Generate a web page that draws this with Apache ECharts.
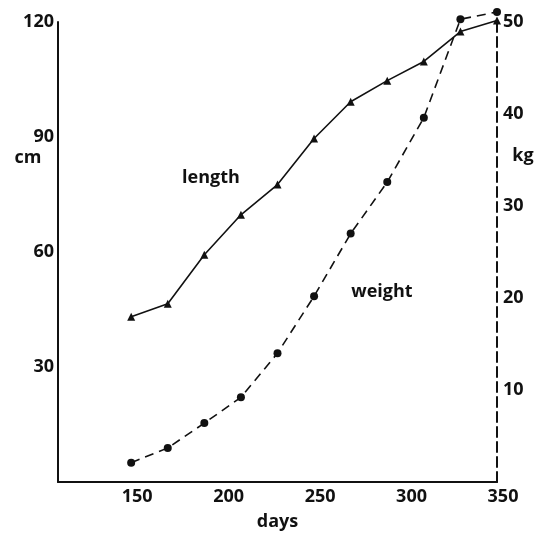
<!DOCTYPE html>
<html>
<head>
<meta charset="utf-8">
<script src="https://cdn.jsdelivr.net/npm/echarts@6/dist/echarts.min.js"></script>
<style>
html,body{margin:0;padding:0;background:#fff;}
#chart{width:539px;height:537px;}
</style>
</head>
<body>
<div id="chart"></div>
<script>
const days = [150, 170, 190, 210, 230, 250, 270, 290, 310, 330, 350];
const lengthCm = [43.1, 46.5, 59.3, 69.7, 77.6, 89.6, 99.2, 104.7, 109.7, 117.5, 120.4];
const weightKg = [2.1, 3.7, 6.4, 9.2, 14.0, 20.2, 27.0, 32.6, 39.6, 50.3, 51.1];
const xTicks = [150, 200, 250, 300, 350];
const cmTicks = [30, 60, 90, 120];
const kgTicks = [10, 20, 30, 40, 50];

const FONT = 'Open Sans';
const INK = '#111';
const chart = echarts.init(document.getElementById('chart'));
const txt = (text, x, y) => ({
  type: 'text', x: x, y: y,
  style: {text: text, font: 'bold 18px "' + FONT + '"', fill: INK, textAlign: 'center', textVerticalAlign: 'middle'}
});
chart.setOption({
  animation: false,
  backgroundColor: '#fff',
  grid: {left: 58, right: 42, top: 22, bottom: 55},
  xAxis: {
    type: 'value', min: 110, max: 350,
    name: 'days', nameLocation: 'middle', nameGap: 31,
    nameTextStyle: {fontFamily: FONT, fontWeight: 'bold', fontSize: 18, color: INK},
    axisLine: {lineStyle: {color: INK, width: 2}},
    axisTick: {show: false},
    splitLine: {show: false},
    axisLabel: {customValues: xTicks, fontFamily: FONT, fontWeight: 'bold', fontSize: 18, color: INK, margin: 6, padding: [0, 0, 0, 12]}
  },
  yAxis: [{
    type: 'value', min: 0, max: 120,
    axisLine: {show: true, lineStyle: {color: INK, width: 2}},
    axisTick: {show: false},
    splitLine: {show: false},
    axisLabel: {customValues: cmTicks, fontFamily: FONT, fontWeight: 'bold', fontSize: 18, color: INK, margin: 4}
  }, {
    type: 'value', min: 0, max: 50, position: 'right',
    axisLine: {show: true, lineStyle: {color: INK, width: 2, type: [10, 5]}},
    axisTick: {show: false},
    splitLine: {show: false},
    axisLabel: {customValues: kgTicks, fontFamily: FONT, fontWeight: 'bold', fontSize: 18, color: INK, margin: 6}
  }],
  graphic: [txt('cm', 28, 158), txt('kg', 523, 156), txt('length', 211, 178), txt('weight', 382, 292)],
  series: [{
    type: 'line', name: 'length', yAxisIndex: 0, clip: false,
    data: days.map((d, i) => [d, lengthCm[i]]),
    symbol: 'triangle', symbolSize: 8,
    lineStyle: {color: INK, width: 1.6},
    itemStyle: {color: INK}
  }, {
    type: 'line', name: 'weight', yAxisIndex: 1, clip: false,
    data: days.map((d, i) => [d, weightKg[i]]),
    symbol: 'circle', symbolSize: 8,
    lineStyle: {color: INK, width: 1.6, type: [9, 6]},
    itemStyle: {color: INK}
  }]
});
</script>
</body>
</html>
